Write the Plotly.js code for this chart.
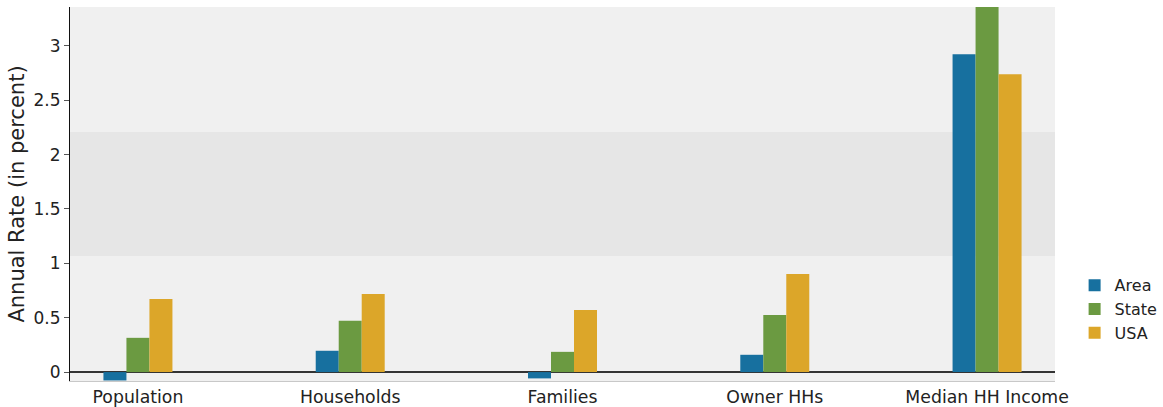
<!DOCTYPE html>
<html><head><meta charset="utf-8">
<script src="https://cdn.plot.ly/plotly-3.0.1.min.js"></script>
<style>html,body{margin:0;padding:0;background:#fff}#chart{width:1163px;height:407px}</style>
</head><body><div id="chart"></div>
<script>
const categories = ["Population", "Households", "Families", "Owner HHs", "Median HH Income"];
const areaValues = [-0.077, 0.196, -0.058, 0.159, 2.923];
const stateValues = [0.315, 0.471, 0.186, 0.526, 3.45];
const usaValues = [0.673, 0.719, 0.572, 0.903, 2.739];
const yTicks = [0, 0.5, 1, 1.5, 2, 2.5, 3];
const yTickLabels = ["0", "0.5", "1", "1.5", "2", "2.5", "3"];
const bandRange = [1.068, 2.207];

const font = "DejaVu Sans, Verdana, sans-serif";
const traces = [
  {type: "bar", name: "Area", x: categories, y: areaValues, marker: {color: "#17709f"}},
  {type: "bar", name: "State", x: categories, y: stateValues, marker: {color: "#6b9a41"}},
  {type: "bar", name: "USA", x: categories, y: usaValues, marker: {color: "#dca629"}}
];
const layout = {
  width: 1163, height: 407,
  margin: {l: 70, r: 108, t: 7, b: 26, autoexpand: false},
  paper_bgcolor: "#ffffff",
  plot_bgcolor: "#f0f0f0",
  barmode: "group",
  bargap: 0.675,
  bargroupgap: 0,
  font: {family: font, color: "#222", size: 17},
  xaxis: {
    range: [-0.32, 4.32],
    showline: true, linecolor: "#c8c8c8", linewidth: 1,
    ticks: "", showgrid: false, zeroline: false,
    tickfont: {family: font, size: 17.3, color: "#222"}
  },
  yaxis: {
    range: [-0.082, 3.357],
    tickvals: yTicks, ticktext: yTickLabels,
    showline: true, linecolor: "#111", linewidth: 1,
    ticks: "outside", ticklen: 5, tickcolor: "#555",
    showgrid: false,
    zeroline: true, zerolinecolor: "#333", zerolinewidth: 2,
    tickfont: {family: font, size: 17, color: "#222"},
    title: {text: "Annual Rate (in percent)", font: {family: font, size: 21, color: "#222"}, standoff: 3}
  },
  shapes: [{
    type: "rect", xref: "paper", yref: "y", layer: "below",
    x0: 0, x1: 1, y0: bandRange[0], y1: bandRange[1],
    fillcolor: "#e6e6e6", line: {width: 0}
  }],
  legend: {
    xref: "container", x: 0.924, xanchor: "left",
    yref: "container", y: 0.24, yanchor: "middle",
    font: {family: font, size: 16, color: "#222"},
    itemwidth: 30, tracegroupgap: 0
  },
  showlegend: true
};
Plotly.newPlot("chart", traces, layout, {staticPlot: true});
</script></body></html>
